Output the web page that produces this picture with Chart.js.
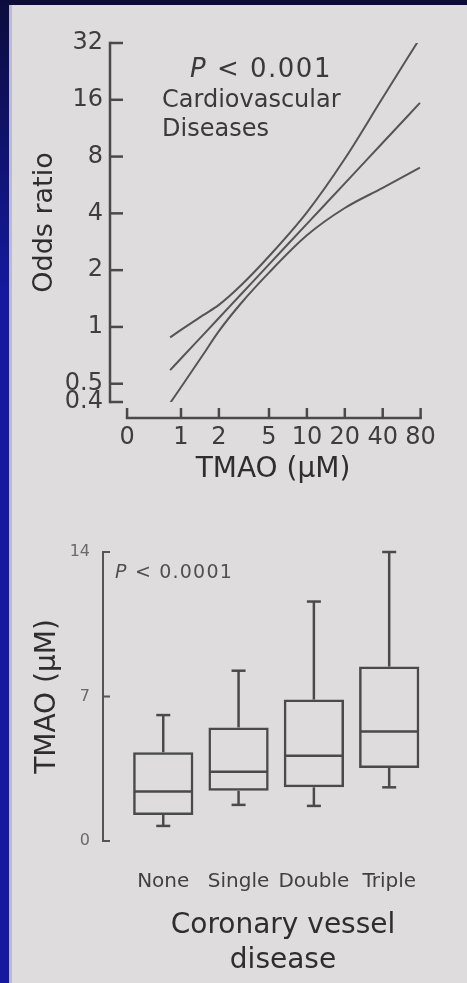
<!DOCTYPE html>
<html>
<head>
<meta charset="utf-8">
<script src="https://cdn.jsdelivr.net/npm/chart.js@4.4.1/dist/chart.umd.min.js"></script>
<style>
html,body{margin:0;padding:0;}
body{width:467px;height:983px;background:#0c0c36;position:relative;overflow:hidden;font-family:'DejaVu Sans',sans-serif;}
#strip{position:absolute;left:0;top:0;width:10px;height:983px;background:linear-gradient(#0c0c3c,#1419a0 30%,#1419a0);}
#edge{position:absolute;left:9px;top:5px;width:3px;height:978px;background:#b9b9dc;}
#panel{position:absolute;left:11px;top:5px;width:456px;height:978px;background:#dfdcde;}
canvas{position:absolute;left:0;}
.note{position:absolute;color:#3a3a3a;white-space:nowrap;}
</style>
</head>
<body>
<div id="strip"></div>
<div id="panel"></div>
<div id="edge"></div>
<canvas id="c1" width="467" height="500" style="top:0px"></canvas>
<canvas id="c2" width="467" height="483" style="top:500px"></canvas>
<div class="note" style="left:190px;top:55px;font-size:26px;line-height:26px;letter-spacing:1.5px;"><i>P</i> &lt; 0.001</div>
<div class="note" style="left:162px;top:85px;font-size:24px;line-height:29px;">Cardiovascular<br>Diseases</div>
<div class="note" style="left:115px;top:562px;font-size:19px;line-height:19px;letter-spacing:1.2px;color:#505050;"><i>P</i> &lt; 0.0001</div>
<script>
// ---- Top chart: odds ratio vs TMAO (log-log), estimate with confidence band ----
const tmaoX = [0.82, 1, 1.5, 2, 3, 5, 10, 20, 40, 79];
const oddsMid = [0.59, 0.68, 0.908, 1.115, 1.49, 2.145, 3.52, 5.77, 9.47, 15.4];
const oddsUpper = [0.88, 0.965, 1.154, 1.309, 1.663, 2.37, 4.05, 7.79, 16.4, 33.9];
const oddsLower = [0.395, 0.479, 0.714, 0.95, 1.335, 1.94, 3.06, 4.27, 5.46, 6.99];
const tmaoTicks = [0.373, 1, 2, 5, 10, 20, 40, 80];
const tmaoTickLabels = ['0', '1', '2', '5', '10', '20', '40', '80'];
const oddsTicks = [0.4, 0.5, 1, 2, 4, 8, 16, 32];
const oddsTickLabels = ['0.4', '0.5', '1', '2', '4', '8', '16', '32'];

// ---- Bottom chart: TMAO by coronary vessel disease (box plot) ----
const vesselGroups = ['None', 'Single', 'Double', 'Triple'];
const groupPos = [1, 2, 3, 4];
const whiskerLow = [0.73, 1.75, 1.7, 2.6];
const q1 = [1.26, 2.43, 2.6, 3.54];
const medians = [2.4, 3.35, 4.13, 5.3];
const q3 = [4.3, 5.5, 6.85, 8.45];
const whiskerHigh = [6.1, 8.25, 11.6, 14.0];
const tmaoBoxTicks = [0, 7, 14];

Chart.defaults.font.family = "'DejaVu Sans', sans-serif";
Chart.defaults.color = '#3a3a3a';
const INK = '#4a4a4a';

function seg(ctx, x1, y1, x2, y2) { ctx.beginPath(); ctx.moveTo(x1, y1); ctx.lineTo(x2, y2); ctx.stroke(); }

const axesPlugin1 = {
  id: 'axes1',
  afterDraw(chart) {
    const { ctx, chartArea: a, scales: { x, y } } = chart;
    ctx.save();
    ctx.strokeStyle = INK; ctx.lineWidth = 2.5; ctx.lineCap = 'square';
    const yTop = y.getPixelForValue(oddsTicks[oddsTicks.length - 1]);
    const yBot = y.getPixelForValue(oddsTicks[0]);
    seg(ctx, a.left, yTop, a.left, yBot);
    ctx.lineCap = 'butt';
    oddsTicks.forEach(v => { const p = y.getPixelForValue(v); seg(ctx, a.left, p, a.left + 13, p); });
    const ax = a.bottom + 16;
    const xl = x.getPixelForValue(tmaoTicks[0]);
    const xr = x.getPixelForValue(tmaoTicks[tmaoTicks.length - 1]);
    ctx.lineCap = 'square';
    seg(ctx, xl, ax, xr, ax);
    ctx.lineCap = 'butt';
    tmaoTicks.forEach(v => { const p = x.getPixelForValue(v); seg(ctx, p, ax, p, ax - 10); });
    ctx.restore();
  }
};

const pts = arr => tmaoX.map((v, i) => ({ x: v, y: arr[i] }));

new Chart(document.getElementById('c1'), {
  type: 'line',
  data: {
    datasets: [
      { data: pts(oddsUpper) },
      { data: pts(oddsMid) },
      { data: pts(oddsLower) }
    ]
  },
  options: {
    responsive: false, animation: false, events: [],
    layout: { padding: { top: 43, left: 0, right: 31, bottom: 0 } },
    plugins: { legend: { display: false }, tooltip: { enabled: false } },
    elements: {
      point: { radius: 0 },
      line: { borderWidth: 2, borderColor: '#555555', cubicInterpolationMode: 'monotone' }
    },
    scales: {
      x: {
        type: 'logarithmic', min: 0.273, max: 106, bounds: 'data',
        afterBuildTicks: s => { s.ticks = tmaoTicks.map(v => ({ value: v })); },
        afterFit: s => { s.height = 98; },
        grid: { display: false, drawTicks: false }, border: { display: false },
        ticks: { autoSkip: false, maxRotation: 0, padding: 21, color: '#3e3e3e', font: { size: 24 },
                 callback: (v, i) => tmaoTickLabels[i] },
        title: { display: true, text: 'TMAO (μM)', color: '#2e2e2e', font: { size: 28 }, padding: { top: 0, bottom: 13 } }
      },
      y: {
        type: 'logarithmic', min: 0.4, max: 32, bounds: 'data',
        afterBuildTicks: s => { s.ticks = oddsTicks.map(v => ({ value: v })); },
        afterFit: s => { s.width = 110; },
        grid: { display: false, drawTicks: false }, border: { display: false },
        ticks: { autoSkip: false, padding: 7, color: '#3e3e3e', font: { size: 24 },
                 callback: (v, i) => oddsTickLabels[i] },
        title: { display: true, text: 'Odds ratio', color: '#2e2e2e', font: { size: 27 }, padding: { top: 29, bottom: 0 } }
      }
    }
  },
  plugins: [axesPlugin1]
});

const boxPlugin = {
  id: 'boxparts',
  afterDatasetsDraw(chart) {
    const { ctx, chartArea: a, scales: { x, y } } = chart;
    const bars = chart.getDatasetMeta(0).data;
    ctx.save();
    ctx.strokeStyle = INK; ctx.lineWidth = 2.5; ctx.lineCap = 'butt';
    groupPos.forEach((g, i) => {
      const cx = x.getPixelForValue(g);
      const half = bars[i].width / 2;
      const yq1 = y.getPixelForValue(q1[i]), yq3 = y.getPixelForValue(q3[i]);
      const ylo = y.getPixelForValue(whiskerLow[i]), yhi = y.getPixelForValue(whiskerHigh[i]);
      const ymed = y.getPixelForValue(medians[i]);
      seg(ctx, cx, yq3, cx, yhi); seg(ctx, cx - 7, yhi, cx + 7, yhi);
      seg(ctx, cx, yq1, cx, ylo); seg(ctx, cx - 7, ylo, cx + 7, ylo);
      seg(ctx, cx - half + 1, ymed, cx + half - 1, ymed);
    });
    ctx.strokeStyle = '#555'; ctx.lineWidth = 2;
    const t = y.getPixelForValue(tmaoBoxTicks[tmaoBoxTicks.length - 1]);
    const b = y.getPixelForValue(tmaoBoxTicks[0]);
    ctx.lineCap = 'square';
    seg(ctx, a.left, t, a.left, b);
    ctx.lineCap = 'butt';
    tmaoBoxTicks.forEach(v => { const p = y.getPixelForValue(v); seg(ctx, a.left, p, a.left + 7, p); });
    ctx.restore();
  }
};

new Chart(document.getElementById('c2'), {
  type: 'bar',
  data: {
    datasets: [{
      data: groupPos.map((g, i) => ({ x: g, y: [q1[i], q3[i]] })),
      backgroundColor: 'rgba(0,0,0,0)', borderColor: INK, borderWidth: 2.5, borderSkipped: false,
      barPercentage: 1, categoryPercentage: 0.8
    }]
  },
  options: {
    responsive: false, animation: false, events: [],
    layout: { padding: { top: 52, left: 0, right: 4, bottom: 0 } },
    plugins: { legend: { display: false }, tooltip: { enabled: false } },
    scales: {
      x: {
        type: 'linear', min: 0.2, max: 4.98, offset: false,
        afterBuildTicks: s => { s.ticks = groupPos.map(v => ({ value: v })); },
        afterFit: s => { s.height = 142; },
        grid: { display: false, drawTicks: false }, border: { display: false },
        ticks: { autoSkip: false, maxRotation: 0, padding: 29, color: '#404040', font: { size: 20 },
                 callback: (v, i) => vesselGroups[i] },
        title: { display: true, text: ['Coronary vessel', 'disease'], color: '#2e2e2e',
                 font: { size: 28, lineHeight: 1.25 }, padding: { top: 0, bottom: 5 } }
      },
      y: {
        type: 'linear', min: 0, max: 14,
        afterBuildTicks: s => { s.ticks = tmaoBoxTicks.map(v => ({ value: v })); },
        afterFit: s => { s.width = 103; },
        grid: { display: false, drawTicks: false }, border: { display: false },
        ticks: { autoSkip: false, padding: 13, color: '#6a6a6a', font: { size: 16 },
                 callback: (v, i) => String(tmaoBoxTicks[i]) },
        title: { display: true, text: 'TMAO (μM)', color: '#2e2e2e', font: { size: 28 }, padding: { top: 31, bottom: 0 } }
      }
    }
  },
  plugins: [boxPlugin]
});
</script>
</body>
</html>
